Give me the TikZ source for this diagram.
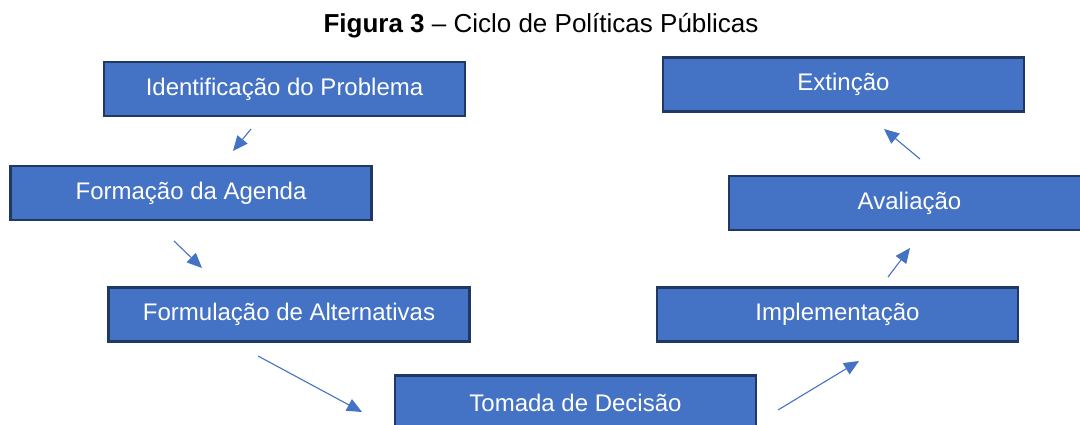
\documentclass[tikz,border=0pt]{standalone}
\usepackage{fontspec}
\setmainfont{Liberation Sans}
\usetikzlibrary{arrows.meta}
\definecolor{boxblue}{HTML}{4472C4}
\definecolor{boxedge}{HTML}{1F3864}
\definecolor{arrblue}{HTML}{4472C4}
\begin{document}
\begin{tikzpicture}[x=1pt,y=-1pt,
  stagebox/.style={draw=boxedge,line width=2.2pt,fill=boxblue,text=white,
    minimum width=361pt,minimum height=54pt,inner sep=0pt,
    font=\fontsize{24}{27}\selectfont},
  flowarrow/.style={draw=arrblue,line width=1.1pt,-{Triangle[length=15pt,width=13pt]}}]
\clip (0,0) rectangle (1080,425);
\node[font=\fontsize{26}{29}\selectfont,anchor=base] (title) at (541,33) {\textbf{Figura 3} – Ciclo de Políticas Públicas};
\node[stagebox] (ident) at (284.5,89) {Identificação do Problema};
\node[stagebox] (form) at (191,193) {Formação da Agenda};
\node[stagebox] (formul) at (289,314.5) {Formulação de Alternativas};
\node[stagebox] (tomada) at (575.5,402.5) {Tomada de Decisão};
\node[stagebox] (impl) at (837.5,314.5) {Implementação};
\node[stagebox] (aval) at (909.5,203) {Avaliação};
\node[stagebox] (ext) at (843.5,84.5) {Extinção};
\coordinate (a1s) at (251,129); \coordinate (a1e) at (233,151);
\coordinate (a2s) at (174,241); \coordinate (a2e) at (202,268);
\coordinate (a3s) at (258,356); \coordinate (a3e) at (362,412);
\coordinate (a4s) at (778,410); \coordinate (a4e) at (859,361);
\coordinate (a5s) at (888,277); \coordinate (a5e) at (910,248);
\coordinate (a6s) at (920,159); \coordinate (a6e) at (884,129);
\draw[flowarrow] (a1s) -- (a1e);
\draw[flowarrow] (a2s) -- (a2e);
\draw[flowarrow] (a3s) -- (a3e);
\draw[flowarrow] (a4s) -- (a4e);
\draw[flowarrow] (a5s) -- (a5e);
\draw[flowarrow] (a6s) -- (a6e);
\end{tikzpicture}
\end{document}
